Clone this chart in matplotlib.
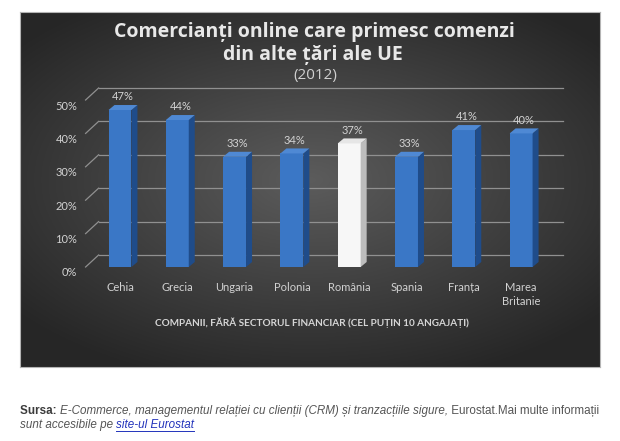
import numpy as np
import matplotlib
matplotlib.use("Agg")
import matplotlib.pyplot as plt
from matplotlib.patches import Polygon
from matplotlib.lines import Line2D
import matplotlib.transforms as mtransforms

# --------------------------------------------------
# DATA

countries = ["Cehia", "Grecia", "Ungaria", "Polonia", "România",
             "Spania", "Franța", "Marea\nBritanie"]
shares = [0.47, 0.44, 0.33, 0.34, 0.37, 0.33, 0.41, 0.40]
highlight = "România"
yticks = [0, 0.1, 0.2, 0.3, 0.4, 0.5]
ytick_labels = ["0%", "10%", "20%", "30%", "40%", "50%"]

title_lines = ["Comercianți online care primesc comenzi", "din alte țări ale UE"]
subtitle = "(2012)"
xlabel = "COMPANII, FĂRĂ SECTORUL FINANCIAR (CEL PUȚIN 10 ANGAJAȚI)"

# --------------------------------------------------
# FIGURE

W, H = 620, 441
fig = plt.figure(figsize=(W / 100, H / 100), dpi=100)
fig.patch.set_facecolor("white")
FONT = ["Lato", "DejaVu Sans"]
TFONT = ["Open Sans", "DejaVu Sans"]


def px_box(x0, y0, x1, y1):
    return [x0 / W, 1 - y1 / H, (x1 - x0) / W, (y1 - y0) / H]


# dark panel with radial gradient
bg = fig.add_axes(px_box(20, 12, 600, 367))
gx, gy = np.meshgrid(np.linspace(-1, 1, 400), np.linspace(-1, 1, 250))
r = np.sqrt((gx * 0.95) ** 2 + ((gy + 0.05) * 1.05) ** 2)
shade = 0.15 + 0.21 * np.clip(1 - r / 1.25, 0, 1)
bg.imshow(np.dstack([shade, shade, shade]), extent=[0, 1, 0, 1], aspect="auto")
bg.set_xticks([])
bg.set_yticks([])
for s in bg.spines.values():
    s.set_color("#b4b4b4")
    s.set_linewidth(0.8)

# plotting axes
x_lo, x_hi = -0.6, 7.6
ax = fig.add_axes(px_box(85.6, 100, 555.5, 267))
ax.set_xlim(x_lo, x_hi)
ax.set_ylim(0, 0.5)
ax.patch.set_alpha(0)
for s in ax.spines.values():
    s.set_visible(False)

ppx = 469.9 / (x_hi - x_lo)
ppy = 167 / 0.5


def dx(px):
    return px / ppx


def dy(py):
    return py / ppy


# back wall gridlines
for t in yticks:
    ax.plot([x_lo, x_lo + dx(13)], [t, t + dy(12)], color="#909090", lw=0.9,
            clip_on=False, zorder=1)
    ax.plot([x_lo + dx(13), x_hi + dx(7)], [t + dy(12), t + dy(12)],
            color="#909090", lw=0.9, clip_on=False, zorder=1)

# bars with 3D faces
x = np.arange(len(countries))
bw = 0.4
front = ["#f7f7f7" if c == highlight else "#3a77c6" for c in countries]
side = ["#bdbdbd" if c == highlight else "#1f4c8a" for c in countries]
top = ["#e6e6e6" if c == highlight else "#4f89d4" for c in countries]
ax.bar(x, shares, width=bw, color=front, zorder=3)
ddx, ddy = dx(6), dy(5)
for xi, v, cs, ct in zip(x, shares, side, top):
    r_ = xi + bw / 2
    l_ = xi - bw / 2
    ax.add_patch(Polygon([(r_, 0), (r_ + ddx, ddy), (r_ + ddx, v + ddy), (r_, v)],
                         closed=True, facecolor=cs, edgecolor="none", zorder=3,
                         clip_on=False))
    ax.add_patch(Polygon([(l_, v), (r_, v), (r_ + ddx, v + ddy), (l_ + ddx, v + ddy)],
                         closed=True, facecolor=ct, edgecolor="none", zorder=3,
                         clip_on=False))
    ax.annotate(f"{round(v * 100)}%", (xi + ddx / 2, v + ddy), xytext=(0, 2),
                textcoords="offset points", ha="center", va="bottom",
                fontsize=8, color="#d2d2d2", family=FONT)

# ticks
ax.set_xticks(x)
ax.set_xticklabels(countries, fontsize=8, color="#d2d2d2", family=FONT,
                   linespacing=1.25)
ax.tick_params(axis="x", length=0, pad=11)
ax.set_yticks(yticks)
ax.set_yticklabels(ytick_labels, fontsize=8, color="#d2d2d2", family=FONT)
ax.tick_params(axis="y", length=0, pad=6)
shift = mtransforms.ScaledTranslation(0, -5 / 100, fig.dpi_scale_trans)
for lab in ax.get_yticklabels():
    lab.set_transform(lab.get_transform() + shift)

# titles
fig.text(314 / W, 1 - 32 / H, title_lines[0], ha="center", va="center",
         fontsize=14, fontweight="bold", color="#e8e8e8", family=TFONT)
fig.text(313 / W, 1 - 55 / H, title_lines[1], ha="center", va="center",
         fontsize=14, fontweight="bold", color="#e8e8e8", family=TFONT)
fig.text(315 / W, 1 - 76 / H, subtitle, ha="center", va="center",
         fontsize=11, color="#d0d0d0", family=TFONT)
fig.text(312 / W, 1 - 323 / H, xlabel, ha="center", va="center",
         fontsize=7.2, fontweight="bold", color="#d6d6d6", family=FONT)

# source note
renderer = fig.canvas.get_renderer()
SRC = ["Liberation Sans", "DejaVu Sans"]


def write_line(pieces, y_px):
    xpos = 20 / W
    for txt, weight, style, color, underline in pieces:
        t = fig.text(xpos, 1 - y_px / H, txt, ha="left", va="baseline",
                     fontsize=8.4, fontweight=weight, fontstyle=style,
                     color=color, family=SRC)
        bb = t.get_window_extent(renderer)
        if underline:
            fig.add_artist(Line2D([bb.x0 / W, bb.x1 / W],
                                  [(bb.y0 + 0.5) / H, (bb.y0 + 0.5) / H],
                                  color=color, lw=0.7))
        xpos = bb.x1 / W


write_line([("Sursa: ", "bold", "normal", "#3c3c3c", False),
            ("E-Commerce, managementul relației cu clienții (CRM) și tranzacțiile sigure,",
             "normal", "italic", "#555555", False),
            (" Eurostat.Mai multe informații", "normal", "normal", "#555555", False)], 414)
write_line([("sunt accesibile pe ", "normal", "italic", "#555555", False),
            ("site-ul Eurostat", "normal", "italic", "#2233bb", True)], 428)

fig.savefig("out.png", dpi=100, facecolor=fig.get_facecolor())
